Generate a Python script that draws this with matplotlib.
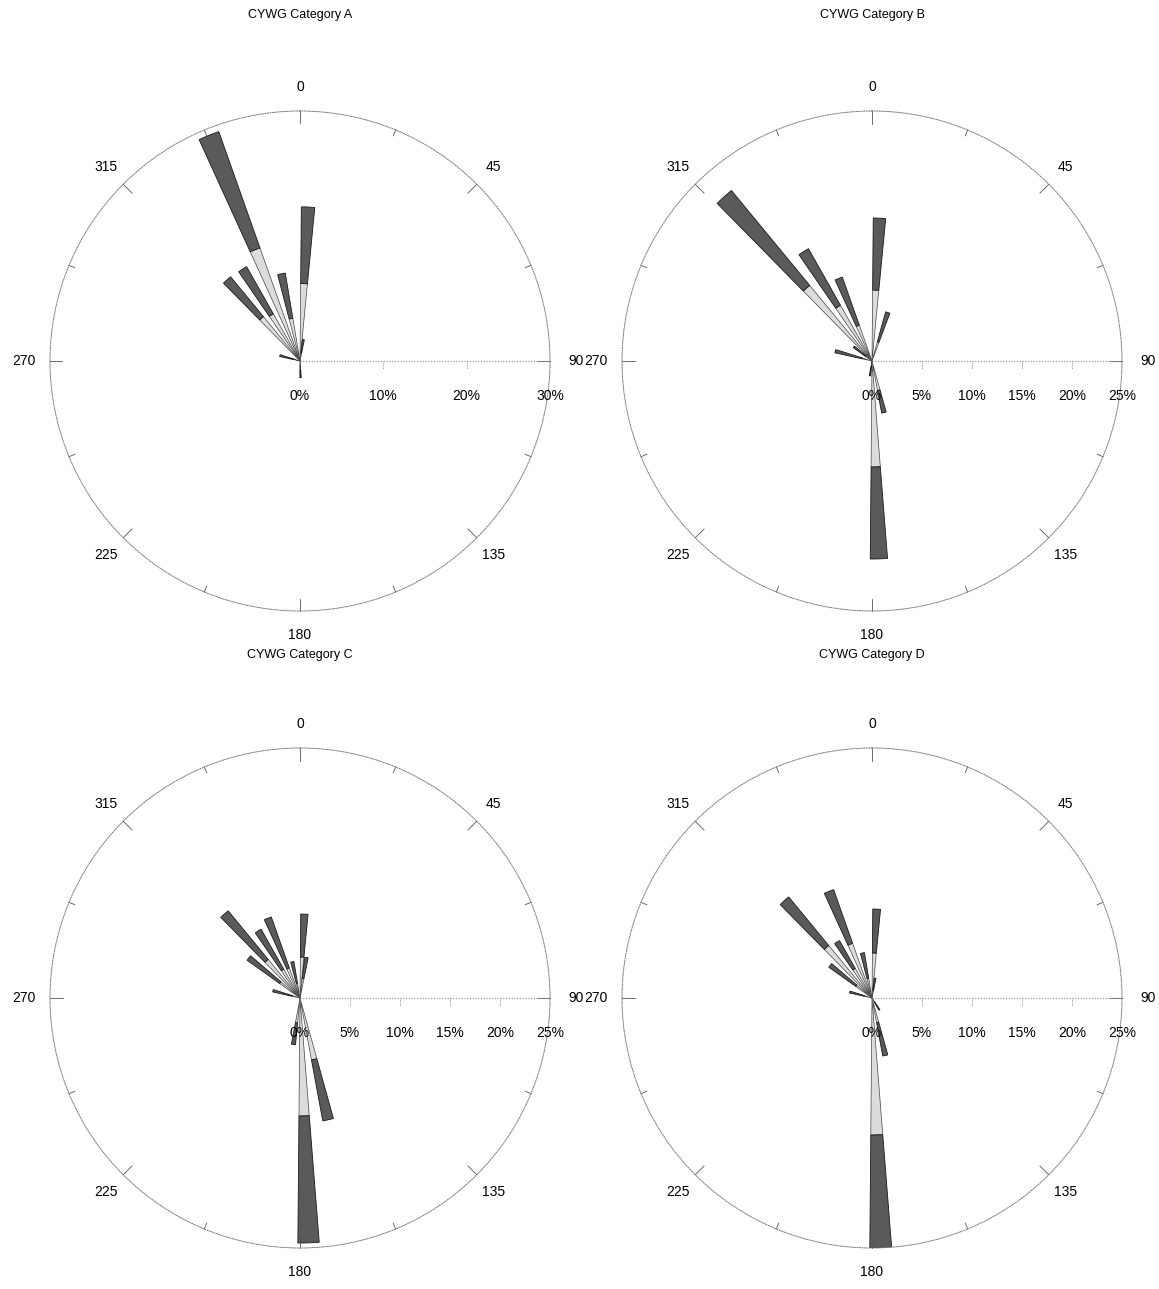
import numpy as np
import matplotlib
matplotlib.use("Agg")
import matplotlib.pyplot as plt

plt.rcParams['font.family'] = ['Liberation Sans', 'DejaVu Sans']

# bar directions (degrees, clockwise from north)
dirs = [148, 167, 178, 188, 285, 308, 318, 328, 338, 348, 3, 9, 18]

# total length and light inner part of each bar (%)
a_total = [0, 0, 2.0, 0, 2.5, 0, 13.1, 13.0, 29.2, 10.7, 18.5, 2.6, 0]
a_inner = [0, 0, 0.5, 0, 0.8, 0, 6.9, 6.5, 14.4, 5.2, 9.3, 1.0, 0]

b_total = [0, 5.3, 19.8, 1.5, 3.8, 2.3, 22.1, 12.9, 8.9, 0, 14.3, 0, 5.1]
b_inner = [0, 3.0, 10.6, 0.5, 1.0, 0.8, 9.8, 6.4, 3.8, 0, 7.1, 0, 2.0]

c_total = [0, 12.5, 24.5, 4.7, 2.8, 6.5, 11.3, 7.9, 8.6, 3.7, 8.4, 4.1, 0]
c_inner = [0, 6.3, 11.8, 2.5, 0.8, 2.5, 5.0, 3.3, 3.2, 1.5, 4.1, 2.0, 0]

d_total = [1.4, 5.9, 25.0, 0, 2.3, 5.3, 13.1, 6.6, 11.5, 4.6, 8.9, 2.0, 0]
d_inner = [0.5, 2.5, 13.7, 0, 0.8, 2.0, 6.8, 3.4, 5.8, 2.0, 4.5, 0.8, 0]

titles = ["CYWG Category A", "CYWG Category B", "CYWG Category C", "CYWG Category D"]
rmaxes = [30, 25, 25, 25]
rticks = [[0, 10, 20, 30], [0, 5, 10, 15, 20, 25], [0, 5, 10, 15, 20, 25],
          [0, 5, 10, 15, 20, 25]]
centers = [(300, 361), (872, 361), (300, 998), (872, 998)]

W, H = 1159, 1289
R = 250


def rose(ax, total, inner, rmax, ticks):
    ax.set_theta_zero_location('N')
    ax.set_theta_direction(-1)
    ax.set_ylim(0, rmax)
    ax.set_xticks([])
    ax.set_yticks([])
    ax.grid(False)
    ax.spines['polar'].set_linestyle((0, (1, 1.5)))
    ax.spines['polar'].set_color('#777777')
    ax.spines['polar'].set_linewidth(0.7)

    th = np.deg2rad(dirs)
    inner = np.array(inner)
    outer = np.array(total) - inner
    w = np.deg2rad(5)
    ax.bar(th, inner, w, color='#dcdcdc', edgecolor='#444444', linewidth=0.5)
    ax.bar(th, outer, w, bottom=inner, color='#5a5a5a', edgecolor='#1a1a1a',
           linewidth=0.6)

    # rim ticks and direction labels
    for deg in np.arange(0, 360, 22.5):
        t = np.deg2rad(deg)
        ln = 0.05 if deg % 45 == 0 else 0.025
        ax.plot([t, t], [rmax * (1 - ln), rmax], color='#555555', lw=0.6,
                clip_on=False)
        if deg % 45 == 0:
            rr = 1.105 if deg in (90, 270) else 1.095
            ax.text(t, rmax * rr, f"{int(deg)}", ha='center', va='center',
                    fontsize=10, clip_on=False)

    # radial axis drawn to the east
    ax.plot([np.pi / 2, np.pi / 2], [0, rmax], color='#888888', lw=0.8,
            ls=(0, (1, 1.5)))
    for v in ticks:
        x = 0.5 + 0.5 * v / rmax
        ax.plot([x, x], [0.5, 0.5 - 8 / 500], transform=ax.transAxes,
                color='#888888', lw=0.6, ls=(0, (1, 1)))
        ax.text(x, 0.5 - 35 / 500, f"{v}%", transform=ax.transAxes,
                ha='center', va='center', fontsize=10)


def main():
    fig = plt.figure(figsize=(W / 100, H / 100), dpi=100)
    data = [(a_total, a_inner), (b_total, b_inner), (c_total, c_inner),
            (d_total, d_inner)]
    for i in range(4):
        cx, cy = centers[i]
        ax = fig.add_axes([(cx - R) / W, (H - cy - R) / H, 2 * R / W, 2 * R / H],
                          projection='polar')
        rose(ax, data[i][0], data[i][1], rmaxes[i], rticks[i])
        ty = 15 if i < 2 else 655
        fig.text(cx / W, 1 - ty / H, titles[i], ha='center', va='center',
                 fontsize=9)
    fig.savefig("out.png", dpi=100)


if __name__ == "__main__":
    main()
